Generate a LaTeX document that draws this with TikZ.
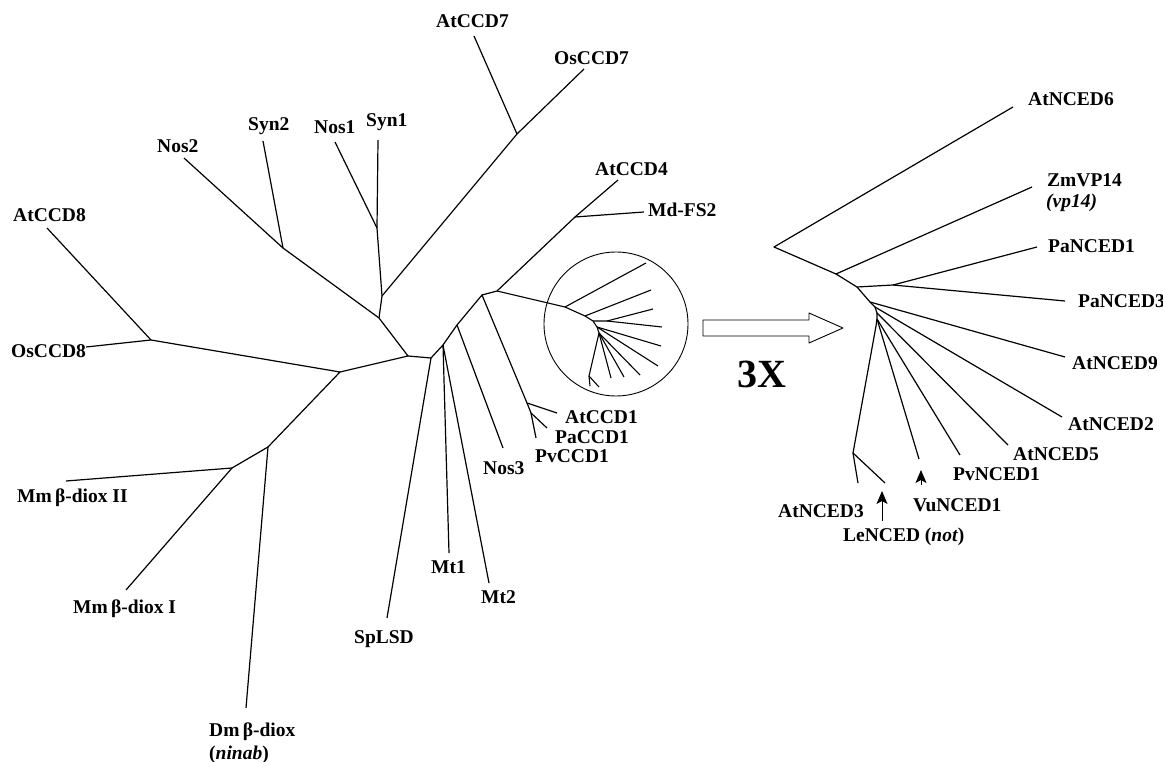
\documentclass[tikz,border=0pt]{standalone}
\usepackage{fontspec}
\setmainfont{Liberation Serif}
\usetikzlibrary{arrows.meta}
\begin{document}
\begin{tikzpicture}[x=1pt,y=-1pt,line join=round,
  lab/.style={font=\fontsize{19.5}{22}\selectfont\bfseries,inner sep=0pt,anchor=base west},
  br/.style={draw,line width=1.2pt},
  mini/.style={draw,line width=1.1pt},
  ring/.style={draw,line width=0.9pt},
  uparrow/.style={draw,line width=0.9pt,-{Stealth[length=13pt,width=11pt,inset=3pt]}},
  bigarrow/.style={draw,line width=0.9pt}]
\useasboundingbox (0,0) rectangle (1163,762);

% ---------- left tree coordinates ----------
\coordinate (n8) at (151,340);
\coordinate (lAtCCD8) at (47,228);
\coordinate (lOsCCD8) at (86,347);
\coordinate (E) at (340,372);
\coordinate (F) at (268,447);
\coordinate (G) at (232,468);
\coordinate (lMm2) at (66,481);
\coordinate (lMm1) at (126,590);
\coordinate (lDm) at (246,708);
\coordinate (C) at (408,356);
\coordinate (B) at (379,318);
\coordinate (nSyn2) at (283,248);
\coordinate (lNos2) at (184,158);
\coordinate (lSyn2) at (263,141);
\coordinate (n7) at (382,296);
\coordinate (nNS) at (377,228);
\coordinate (lNos1) at (335,142);
\coordinate (lSyn1) at (378,140);
\coordinate (nCCD7) at (517,134);
\coordinate (lAtCCD7) at (474,36);
\coordinate (lOsCCD7) at (584,69);
\coordinate (D) at (431,358);
\coordinate (lSpLSD) at (387,618);
\coordinate (H) at (443,345);
\coordinate (lMt1) at (449,553);
\coordinate (lMt2) at (489,583);
\coordinate (I) at (457,325);
\coordinate (lNos3) at (503,448);
\coordinate (J) at (482,295);
\coordinate (K) at (527,403);
\coordinate (L) at (531,413);
\coordinate (lAtCCD1) at (557,413);
\coordinate (lPaCCD1) at (547,428);
\coordinate (lPvCCD1) at (536,438);
\coordinate (M) at (497,291);
\coordinate (N) at (575,217);
\coordinate (lAtCCD4) at (618,180);
\coordinate (lMdFS2) at (644,212);

% ---------- miniature (circled) subtree ----------
\coordinate (c1) at (565,307);
\coordinate (c2) at (585,316);
\coordinate (c3) at (593,321);
\coordinate (c4) at (607,321);
\coordinate (c5) at (597,327);
\coordinate (c6) at (599,333);
\coordinate (c7) at (589,376);
\coordinate (m1) at (646,263);
\coordinate (m2) at (651,290);
\coordinate (m3) at (653,309);
\coordinate (m4) at (662,327);
\coordinate (m5) at (661,346);
\coordinate (m6) at (658,366);
\coordinate (m7) at (640,375);
\coordinate (m8) at (624,377);
\coordinate (m9) at (611,378);
\coordinate (m10) at (590,386);
\coordinate (m11) at (599,387);
\coordinate (ringc) at (616,324);

% ---------- right (3X) tree ----------
\coordinate (r0) at (774,247);
\coordinate (r1) at (836,274);
\coordinate (r2) at (857,287);
\coordinate (r3) at (893,285);
\coordinate (r4) at (870,302);
\coordinate (r5) at (875,307);
\coordinate (r6) at (877,313);
\coordinate (r7) at (877,319);
\coordinate (r8) at (876,326);
\coordinate (r9) at (853,453);
\coordinate (pAtNCED6) at (1013,107);
\coordinate (pZmVP14) at (1032,187);
\coordinate (pPaNCED1) at (1037,247);
\coordinate (pPaNCED3) at (1065,301);
\coordinate (pAtNCED9) at (1065,357);
\coordinate (pAtNCED2) at (1062,417);
\coordinate (pAtNCED5) at (1008,445);
\coordinate (pPvNCED1) at (960,455);
\coordinate (pVuNCED1) at (919,459);
\coordinate (pAtNCED3) at (858,483);
\coordinate (pLeNCED) at (885,483);

% arrow coordinates
\coordinate (aLe0) at (882,521);
\coordinate (aLe1) at (882,491);
\coordinate (aVu0) at (921,485);
\coordinate (aVu1) at (921,470);

% ---------- left tree branches ----------
\path[br] (lAtCCD8) -- (n8) -- (lOsCCD8);
\path[br] (n8) -- (E) -- (F) -- (lDm);
\path[br] (F) -- (G) -- (lMm2);
\path[br] (G) -- (lMm1);
\path[br] (E) -- (C) -- (B) -- (nSyn2) -- (lNos2);
\path[br] (nSyn2) -- (lSyn2);
\path[br] (B) -- (n7) -- (nNS) -- (lSyn1);
\path[br] (nNS) -- (lNos1);
\path[br] (n7) -- (nCCD7) -- (lOsCCD7);
\path[br] (nCCD7) -- (lAtCCD7);
\path[br] (C) -- (D) -- (lSpLSD);
\path[br] (D) -- (H) -- (lMt1);
\path[br] (H) -- (lMt2);
\path[br] (H) -- (I) -- (lNos3);
\path[br] (I) -- (J) -- (K) -- (lAtCCD1);
\path[br] (K) -- (L) -- (lPvCCD1);
\path[br] (L) -- (lPaCCD1);
\path[br] (J) -- (M) -- (N) -- (lAtCCD4);
\path[br] (N) -- (lMdFS2);

% miniature
\path[mini] (M) -- (c1) -- (c2) -- (c3) -- (c5) -- (c6) -- (c7) -- (m10);
\path[mini] (c1) -- (m1);
\path[mini] (c2) -- (m2);
\path[mini] (c3) -- (c4) -- (m4);
\path[mini] (c4) -- (m3);
\path[mini] (c5) -- (m5);
\path[mini] (c5) -- (m6);
\path[mini] (c6) -- (m7);
\path[mini] (c6) -- (m8);
\path[mini] (c6) -- (m9);
\path[mini] (c7) -- (m11);
\path[ring] (ringc) circle[radius=72];

% big hollow arrow
\path[bigarrow] (703,320) -- (809,320) -- (809,313) -- (843,328) -- (809,343) -- (809,336) -- (703,336) -- cycle;
\node[inner sep=0pt,anchor=base west,font=\fontsize{40}{44}\selectfont\bfseries] (t3x) at (737,388) {3X};

% right tree
\path[br] (pAtNCED6) -- (r0) -- (r1) -- (pZmVP14);
\path[br] (r1) -- (r2) -- (r3) -- (pPaNCED1);
\path[br] (r3) -- (pPaNCED3);
\path[br] (r2) -- (r4) -- (pAtNCED9);
\path[br] (r4) -- (r5) -- (pAtNCED2);
\path[br] (r5) -- (r6) -- (pAtNCED5);
\path[br] (r6) -- (r7) -- (pPvNCED1);
\path[br] (r7) -- (pVuNCED1);
\path[br] (r7) -- (r8) -- (r9) -- (pAtNCED3);
\path[br] (r9) -- (pLeNCED);

\path[uparrow] (aLe0) -- (aLe1);
\path[uparrow] (aVu0) -- (aVu1);

% ---------- labels ----------
\node[lab] (tAtCCD8) at (13,222) {AtCCD8};
\node[lab] (tOsCCD8) at (11,357) {OsCCD8};
\node[lab] (tNos2) at (157,153) {Nos2};
\node[lab] (tSyn2) at (248,131) {Syn2};
\node[lab] (tNos1) at (314,134) {Nos1};
\node[lab] (tSyn1) at (366,127) {Syn1};
\node[lab] (tAtCCD7) at (436,28) {AtCCD7};
\node[lab] (tOsCCD7) at (554,65) {OsCCD7};
\node[lab] (tAtCCD4) at (595,176) {AtCCD4};
\node[lab] (tMdFS2) at (648,217) {Md-FS2};
\node[lab] (tAtCCD1) at (565,423) {AtCCD1};
\node[lab] (tPaCCD1) at (555,443) {PaCCD1};
\node[lab] (tPvCCD1) at (535,462) {PvCCD1};
\node[lab] (tNos3) at (483,474) {Nos3};
\node[lab] (tMt1) at (431,573) {Mt1};
\node[lab] (tMt2) at (481,603) {Mt2};
\node[lab] (tSpLSD) at (354,643) {SpLSD};
\node[lab] (tMm2) at (17,502) {Mm\,β-diox II};
\node[lab] (tMm1) at (73,613) {Mm\,β-diox I};
\node[lab] (tDm) at (209,736) {Dm\,β-diox};
\node[lab] (tninab) at (209,759) {(\textit{ninab})};

\node[lab] (tAtNCED6) at (1028,106) {AtNCED6};
\node[lab] (tZmVP14) at (1047,187) {ZmVP14};
\node[lab] (tvp14) at (1046,208) {\textit{(vp14)}};
\node[lab] (tPaNCED1) at (1048,253) {PaNCED1};
\node[lab] (tPaNCED3) at (1078,308) {PaNCED3};
\node[lab] (tAtNCED9) at (1072,369) {AtNCED9};
\node[lab] (tAtNCED2) at (1068,430) {AtNCED2};
\node[lab] (tAtNCED5) at (1013,460) {AtNCED5};
\node[lab] (tPvNCED1) at (953,480) {PvNCED1};
\node[lab] (tVuNCED1) at (913,511) {VuNCED1};
\node[lab] (tAtNCED3) at (778,517) {AtNCED3};
\node[lab] (tLeNCED) at (843,541) {LeNCED (\textit{not})};
\end{tikzpicture}
\end{document}
